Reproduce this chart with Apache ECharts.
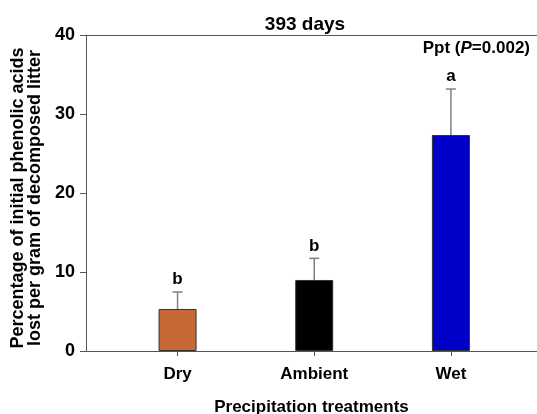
<!DOCTYPE html>
<html>
<head>
<meta charset="utf-8">
<script src="https://cdn.jsdelivr.net/npm/echarts@6/dist/echarts.min.js"></script>
<style>
  html, body { margin: 0; padding: 0; background: #fff; }
  #container { width: 537px; height: 414px; }
</style>
</head>
<body>
<div id="container"></div>
<script>
// values
let treatments = ['Dry', 'Ambient', 'Wet'];
let means = [5.32, 8.99, 27.34];
let upper = [7.47, 11.73, 33.16];
let letters = ['b', 'b', 'a'];
let barColors = ['#C66A35', '#000000', '#0000C8'];
let yTicks = [0, 10, 20, 30, 40];

let font = 'Liberation Sans, Arial, sans-serif';
let axisColor = '#555';

let barData = means.map((v, i) => ({
    value: [i + 1, v],
    itemStyle: {color: barColors[i]}
}));
let errData = means.map((v, i) => [i + 1, v, upper[i], letters[i]]);

let dom = document.getElementById('container');
let chart = echarts.init(dom);

chart.setOption({
    animation: false,
    title: {
        text: '393 days',
        left: 300,
        top: 10,
        textAlign: 'center',
        textStyle: {fontFamily: font, fontSize: 19, fontWeight: 'bold', color: '#000'}
    },
    grid: {left: 86, right: 0, top: 35, bottom: 63, outerBoundsMode: 'none', containLabel: false},
    xAxis: [{
        type: 'value',
        min: 0.33,
        max: 3.63,
        splitLine: {show: false},
        axisLine: {show: true, lineStyle: {color: axisColor, width: 1}},
        axisTick: {show: true, customValues: [1, 2, 3], length: 5, inside: false,
            lineStyle: {color: axisColor}},
        axisLabel: {
            customValues: [1, 2, 3],
            formatter: (v) => treatments[Math.round(v) - 1],
            margin: 15,
            fontFamily: font, fontSize: 17, fontWeight: 'bold', color: '#000'
        },
        name: 'Precipitation treatments',
        nameLocation: 'middle',
        nameGap: 48,
        nameTextStyle: {fontFamily: font, fontSize: 17, fontWeight: 'bold', color: '#000'}
    }, {
        type: 'value',
        position: 'top',
        min: 0.33,
        max: 3.63,
        splitLine: {show: false},
        axisLine: {show: true, onZero: false, lineStyle: {color: axisColor, width: 1}},
        axisTick: {show: false},
        axisLabel: {show: false}
    }],
    yAxis: {
        type: 'value',
        min: 0,
        max: 40,
        interval: 10,
        splitLine: {show: false},
        axisLine: {show: true, lineStyle: {color: axisColor, width: 1}},
        axisTick: {show: true, length: 6, lineStyle: {color: axisColor}},
        axisLabel: {
            formatter: (v) => yTicks.includes(v) ? String(v) : '',
            margin: 11,
            fontFamily: font, fontSize: 18, fontWeight: 'bold', color: '#000'
        },
        name: 'Percentage of initial phenolic acids\nlost per gram of decomposed litter',
        nameLocation: 'middle',
        nameGap: 38,
        nameTextStyle: {fontFamily: font, fontSize: 18, fontWeight: 'bold', color: '#000',
            lineHeight: 17, padding: [0, 10, 0, 0]}
    },
    graphic: [{
        type: 'text',
        right: 7,
        top: 40,
        style: {
            text: '{n|Ppt (}{i|P}{n|=0.002)}',
            rich: {
                n: {fontFamily: font, fontSize: 17, fontWeight: 'bold', fill: '#000'},
                i: {fontFamily: font, fontSize: 17, fontWeight: 'bold', fontStyle: 'italic', fill: '#000'}
            }
        }
    }],
    series: [{
        type: 'bar',
        barWidth: 38,
        data: barData,
        itemStyle: {borderColor: '#333', borderWidth: 1}
    }, {
        type: 'custom',
        data: errData,
        z: 3,
        renderItem: (params, api) => {
            let x = api.value(0);
            let top = api.coord([x, api.value(2)]);
            let base = api.coord([x, api.value(1)]);
            let half = 5;
            return {
                type: 'group',
                children: [{
                    type: 'line',
                    shape: {x1: top[0], y1: base[1], x2: top[0], y2: top[1]},
                    style: {stroke: '#808080', lineWidth: 1.5}
                }, {
                    type: 'line',
                    shape: {x1: top[0] - half, y1: top[1], x2: top[0] + half, y2: top[1]},
                    style: {stroke: '#808080', lineWidth: 1.5}
                }, {
                    type: 'text',
                    x: top[0],
                    y: top[1] - 4,
                    style: {
                        text: api.value(3),
                        textAlign: 'center',
                        textVerticalAlign: 'bottom',
                        fontFamily: font, fontSize: 17, fontWeight: 'bold', fill: '#000'
                    }
                }]
            };
        }
    }]
});
</script>
</body>
</html>
